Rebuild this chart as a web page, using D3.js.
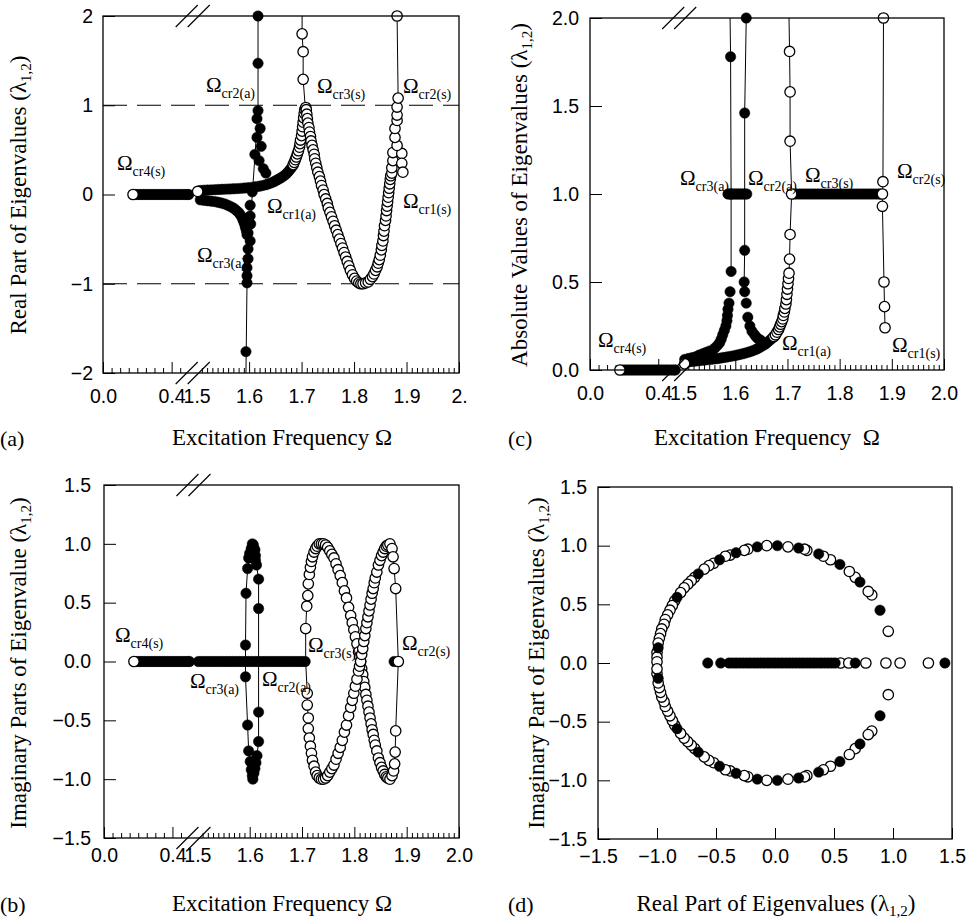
<!DOCTYPE html>
<html>
<head>
<meta charset="utf-8">
<script src="https://cdn.jsdelivr.net/npm/d3@7"></script>
<style>
  body { margin: 0; background: #fff; }
  svg { display: block; }
</style>
</head>
<body>
<script>
// ---------- data ----------
// low-frequency branch (Omega < 0.5), lambda on the real axis
const lowBarOmega = [0.19,0.205,0.22,0.235,0.25,0.265,0.28,0.295,0.31,0.325,0.34,0.355,0.37,0.385,0.40,0.415,0.43,0.445,0.46,0.475,0.49,0.50];
const lowOpen = [[0.175, 0]];

// (a) real part
const aStartOpen = [[1.502, 0.034]];
const aBandUpper = [[1.507,0.045],[1.514,0.048],[1.521,0.05],[1.528,0.052],[1.535,0.054],[1.542,0.056],[1.549,0.058],[1.556,0.06],[1.563,0.062],[1.57,0.064],[1.577,0.066],[1.584,0.069],[1.591,0.072],[1.598,0.076],[1.605,0.08],[1.612,0.086],[1.619,0.092],[1.625,0.1],[1.631,0.108],[1.636,0.118],[1.641,0.128],[1.646,0.14],[1.65,0.152],[1.654,0.165],[1.658,0.178],[1.662,0.192],[1.666,0.208],[1.67,0.226],[1.673,0.245],[1.676,0.265],[1.679,0.287],[1.682,0.31]];
const aBandUpperOpen = [[1.684,0.335],[1.686,0.36],[1.688,0.39],[1.69,0.42],[1.692,0.455],[1.694,0.49],[1.696,0.53],[1.697,0.57],[1.698,0.61],[1.7,0.66],[1.701,0.71],[1.702,0.76],[1.703,0.81],[1.704,0.86],[1.705,0.91],[1.706,0.95],[1.708,0.975]];
const aBandLower = [[1.507,-0.06],[1.514,-0.065],[1.521,-0.07],[1.528,-0.075],[1.535,-0.08],[1.541,-0.087],[1.547,-0.095],[1.553,-0.105],[1.558,-0.117],[1.563,-0.13],[1.568,-0.145],[1.572,-0.16],[1.576,-0.18],[1.58,-0.2],[1.583,-0.225],[1.586,-0.25],[1.588,-0.28],[1.59,-0.31],[1.592,-0.34],[1.593,-0.37],[1.595,-0.41],[1.596,-0.45]];
const aColumn = [[1.617,2.0],[1.617,1.47],[1.617,0.94],[1.615,0.85],[1.621,0.74],[1.615,0.64],[1.623,0.54],[1.611,0.45],[1.619,0.38],[1.627,0.29],[1.632,0.24],[1.606,0.03],[1.602,-0.12],[1.602,-0.24],[1.603,-0.33],[1.598,-0.43],[1.602,-0.52],[1.598,-0.61],[1.598,-0.72],[1.596,-0.82],[1.596,-0.91],[1.596,-0.99],[1.594,-1.76]];
const aColumnLine = [[1.617,2.0],[1.617,1.0],[1.612,0.5],[1.606,0.0],[1.6,-0.5],[1.596,-1.0],[1.594,-2.0]];
const aParabola = [[1.709,0.95],[1.71,0.9],[1.711,0.85],[1.712,0.8],[1.714,0.75],[1.715,0.7],[1.717,0.65],[1.718,0.6],[1.72,0.55],[1.722,0.5],[1.724,0.45],[1.725,0.4],[1.727,0.35],[1.729,0.3],[1.731,0.25],[1.734,0.2],[1.736,0.15],[1.738,0.1],[1.741,0.05],[1.743,0.0],[1.746,-0.05],[1.749,-0.1],[1.751,-0.15],[1.754,-0.2],[1.757,-0.25],[1.76,-0.3],[1.763,-0.35],[1.766,-0.4],[1.769,-0.45],[1.772,-0.5],[1.775,-0.55],[1.778,-0.6],[1.781,-0.65],[1.784,-0.7],[1.787,-0.75],[1.79,-0.8],[1.793,-0.85],[1.797,-0.9],[1.801,-0.94],[1.805,-0.97],[1.809,-0.99],[1.813,-1.0],[1.817,-1.0],[1.822,-0.99],[1.827,-0.98],[1.831,-0.95],[1.835,-0.92],[1.838,-0.89],[1.841,-0.85],[1.844,-0.81],[1.846,-0.77],[1.848,-0.73],[1.85,-0.68],[1.852,-0.62],[1.853,-0.57],[1.855,-0.52],[1.856,-0.46],[1.857,-0.41],[1.858,-0.35],[1.86,-0.29],[1.861,-0.24],[1.862,-0.18],[1.863,-0.13],[1.864,-0.08],[1.865,-0.03],[1.866,0.02],[1.867,0.07],[1.868,0.12],[1.869,0.17],[1.87,0.21]];
const aCol170 = [[1.703,1.29],[1.703,1.6],[1.701,1.8]];
const aCol170Line = [[1.701,2.0],[1.701,1.8],[1.703,1.6],[1.703,1.29],[1.707,0.98]];
const aCol188 = [[1.872,0.24],[1.872,0.3],[1.874,0.38],[1.874,0.47],[1.891,0.46],[1.891,0.35],[1.893,0.25],[1.882,0.55],[1.878,0.64],[1.878,0.74],[1.882,0.83],[1.882,0.89],[1.882,0.98],[1.884,1.08],[1.882,2.0]];
const aCol188Line = [[1.882,2.0],[1.884,1.08],[1.882,0.89],[1.879,0.7],[1.882,0.55],[1.884,0.45]];

// (c) absolute value
const cStartOpen = [[1.503,0.035]];
const cUpperLeft = [[1.503,0.06],[1.51,0.065],[1.517,0.07],[1.524,0.075],[1.531,0.085],[1.538,0.093],[1.544,0.1],[1.55,0.107],[1.556,0.113],[1.561,0.125],[1.566,0.14],[1.57,0.155],[1.573,0.175],[1.576,0.2],[1.579,0.225],[1.582,0.25],[1.584,0.28],[1.585,0.31],[1.586,0.345],[1.588,0.38],[1.59,0.445],[1.592,0.56],[1.592,1.0],[1.591,1.78]];
const cUnitBarA = [1.586,1.59,1.594,1.598,1.602,1.606,1.61,1.614,1.618,1.622];
const cColRight = [[1.621,2.0],[1.618,1.46],[1.618,0.68],[1.617,0.5],[1.618,0.445],[1.621,0.38],[1.624,0.3],[1.628,0.25],[1.632,0.22],[1.637,0.2],[1.641,0.185],[1.645,0.175],[1.649,0.168]];
const cLower = [[1.506,0.045],[1.512,0.047],[1.518,0.049],[1.524,0.051],[1.53,0.053],[1.536,0.055],[1.542,0.057],[1.548,0.059],[1.554,0.061],[1.56,0.063],[1.566,0.065],[1.572,0.068],[1.578,0.071],[1.584,0.074],[1.59,0.077],[1.596,0.08],[1.602,0.084],[1.608,0.088],[1.614,0.092],[1.62,0.097],[1.626,0.102],[1.632,0.108],[1.638,0.115],[1.643,0.122],[1.648,0.13],[1.653,0.139],[1.658,0.148],[1.662,0.158],[1.666,0.168],[1.67,0.179]];
const cLowerOpen = [[1.674,0.19],[1.677,0.2],[1.68,0.215],[1.683,0.23],[1.685,0.245],[1.687,0.26],[1.689,0.275],[1.691,0.29],[1.692,0.31],[1.694,0.33],[1.695,0.35],[1.697,0.375],[1.698,0.4],[1.699,0.43],[1.7,0.46],[1.701,0.49],[1.702,0.52],[1.703,0.55],[1.704,0.63],[1.705,0.77]];
const cCol170 = [[1.708,1.0],[1.705,1.3],[1.705,1.58],[1.704,1.81]];
const cUnitBarS = [1.712,1.718,1.724,1.73,1.736,1.742,1.748,1.754,1.76,1.766,1.772,1.778,1.784,1.79,1.796,1.802,1.808,1.814,1.82,1.826,1.832,1.838,1.844,1.85,1.856,1.862,1.868,1.874,1.878];
const cCol188 = [[1.884,2.0],[1.883,1.07],[1.882,1.0],[1.882,0.93],[1.885,0.5],[1.886,0.36],[1.887,0.24]];
const cLeftLine = [[1.59,2.0],[1.591,1.78],[1.592,1.0],[1.592,0.56]];
const cRightLine = [[1.621,2.0],[1.618,1.46],[1.618,1.0],[1.618,0.68],[1.617,0.5]];
const cCol170Line = [[1.703,2.0],[1.704,1.81],[1.705,1.58],[1.705,1.3],[1.708,1.0],[1.705,0.77],[1.704,0.63],[1.703,0.55]];

// (b) imaginary part
const bBarOmega = [1.502,1.508,1.514,1.52,1.526,1.532,1.538,1.544,1.55,1.556,1.562,1.568,1.574,1.58,1.586,1.592,1.598,1.604,1.61,1.616,1.622,1.628,1.634,1.64,1.646,1.652,1.658,1.664,1.67,1.676,1.682,1.688,1.694,1.7,1.706];
const bLensLeft = [[1.605,1.0],[1.603,0.96],[1.6,0.92],[1.598,0.88],[1.596,0.79],[1.593,0.58],[1.592,0.14],[1.592,-0.13],[1.596,-0.54],[1.598,-0.76],[1.601,-0.85],[1.603,-0.92],[1.605,-0.97],[1.606,-1.0]];
const bLensRight = [[1.607,0.99],[1.61,0.95],[1.611,0.9],[1.611,0.86],[1.613,0.82],[1.617,0.7],[1.617,0.45],[1.617,-0.43],[1.617,-0.68],[1.614,-0.8],[1.612,-0.86],[1.61,-0.91],[1.608,-0.95]];
const bCurveA = [[1.707,0.28],[1.709,0.47],[1.711,0.56],[1.712,0.66],[1.714,0.74],[1.716,0.8],[1.718,0.85],[1.72,0.89],[1.723,0.93],[1.726,0.96],[1.729,0.98],[1.733,1.0],[1.737,1.0],[1.741,1.0],[1.745,0.99],[1.749,0.97],[1.753,0.94],[1.757,0.91],[1.761,0.88],[1.765,0.83],[1.769,0.78],[1.773,0.73],[1.777,0.67],[1.781,0.6],[1.785,0.54],[1.789,0.46],[1.793,0.39],[1.796,0.33],[1.799,0.27],[1.802,0.21],[1.805,0.15],[1.808,0.08],[1.81,0.04],[1.812,0.0],[1.814,-0.06],[1.816,-0.11],[1.818,-0.17],[1.82,-0.22],[1.822,-0.28],[1.824,-0.33],[1.826,-0.38],[1.828,-0.43],[1.83,-0.48],[1.832,-0.53],[1.834,-0.58],[1.836,-0.62],[1.838,-0.67],[1.84,-0.71],[1.843,-0.76],[1.846,-0.82],[1.849,-0.86],[1.852,-0.9],[1.855,-0.93],[1.858,-0.96],[1.861,-0.98],[1.864,-0.99],[1.868,-1.0],[1.872,-0.97],[1.875,-0.93],[1.877,-0.87],[1.878,-0.77],[1.879,-0.59]];
const bCurveB = [[1.71,-0.27],[1.71,-0.37],[1.712,-0.48],[1.712,-0.57],[1.714,-0.65],[1.716,-0.72],[1.718,-0.78],[1.72,-0.84],[1.723,-0.89],[1.726,-0.94],[1.729,-0.97],[1.733,-0.99],[1.737,-1.0],[1.741,-1.0],[1.745,-0.99],[1.749,-0.97],[1.753,-0.94],[1.757,-0.91],[1.761,-0.88],[1.765,-0.83],[1.769,-0.78],[1.773,-0.73],[1.777,-0.67],[1.781,-0.6],[1.785,-0.54],[1.789,-0.46],[1.793,-0.39],[1.796,-0.33],[1.799,-0.27],[1.802,-0.21],[1.805,-0.15],[1.808,-0.08],[1.81,-0.04],[1.812,0.0],[1.814,0.06],[1.816,0.11],[1.818,0.17],[1.82,0.22],[1.822,0.28],[1.824,0.33],[1.826,0.38],[1.828,0.43],[1.83,0.48],[1.832,0.53],[1.834,0.58],[1.836,0.62],[1.838,0.67],[1.84,0.71],[1.843,0.76],[1.846,0.82],[1.849,0.86],[1.852,0.9],[1.855,0.93],[1.858,0.96],[1.861,0.98],[1.864,0.99],[1.868,1.0],[1.872,0.96],[1.874,0.89],[1.876,0.79],[1.879,0.62]];
const bEndFilled = [[1.876,0]];
const bEndOpen = [[1.884,0]];

// (d) eigenvalues in the complex plane
const dAxisFilled = [-0.57,-0.46,-0.39,-0.36,-0.33,-0.3,-0.27,-0.24,-0.21,-0.18,-0.15,-0.12,-0.09,-0.06,-0.03,0.0,0.03,0.06,0.09,0.12,0.15,0.18,0.21,0.24,0.27,0.3,0.33,0.36,0.39,0.42,0.45,0.48,0.51,0.68,1.44];
const dAxisOpen = [0.555,0.625,0.77,0.94,1.06,1.3];
const dCircleFilled = [[0.89,0.45],[0.72,0.69],[0.55,0.84],[0.37,0.93],[0.2,0.98],[0.02,1.0],[-0.15,0.99],[-0.33,0.94],[-0.47,0.88],[-0.65,0.76],[-0.83,0.56],[-0.99,0.13],
  [0.89,-0.45],[0.72,-0.69],[0.55,-0.84],[0.37,-0.93],[0.2,-0.98],[0.02,-1.0],[-0.15,-0.99],[-0.33,-0.94],[-0.47,-0.88],[-0.65,-0.76],[-0.83,-0.56],[-0.99,-0.13]];
const dCircleOpen = [[0.96,0.27],[0.82,0.58],[0.79,0.61],[0.68,0.73],[0.63,0.78],[0.47,0.88],[0.41,0.91],[0.27,0.96],[0.25,0.97],[0.11,0.99],[-0.07,1.0],[-0.23,0.97],[-0.26,0.96],[-0.38,0.92],[-0.42,0.91],[-0.52,0.85],[-0.56,0.83],[-0.6,0.8],[-0.68,0.73],[-0.71,0.7],[-0.74,0.67],[-0.77,0.64],[-0.8,0.6],[-0.85,0.53],[-0.87,0.49],[-0.89,0.45],[-0.91,0.41],[-0.93,0.37],[-0.94,0.33],[-0.96,0.29],[-0.97,0.25],[-0.98,0.21],[-0.99,0.17],[-1.0,0.09],[-1.0,0.05],[-1.0,0.01],
  [0.96,-0.27],[0.82,-0.58],[0.79,-0.61],[0.68,-0.73],[0.63,-0.78],[0.47,-0.88],[0.41,-0.91],[0.27,-0.96],[0.25,-0.97],[0.11,-0.99],[-0.07,-1.0],[-0.23,-0.97],[-0.26,-0.96],[-0.38,-0.92],[-0.42,-0.91],[-0.52,-0.85],[-0.56,-0.83],[-0.6,-0.8],[-0.68,-0.73],[-0.71,-0.7],[-0.74,-0.67],[-0.77,-0.64],[-0.8,-0.6],[-0.85,-0.53],[-0.87,-0.49],[-0.89,-0.45],[-0.91,-0.41],[-0.93,-0.37],[-0.94,-0.33],[-0.96,-0.29],[-0.97,-0.25],[-0.98,-0.21],[-0.99,-0.17],[-1.0,-0.09],[-1.0,-0.05]];

// ticks
const xMajor = [0, 0.4, 1.5, 1.6, 1.7, 1.8, 1.9, 2.0];
const xMajorLabels = ["0.0","0.4","1.5","1.6","1.7","1.8","1.9","2.0"];
const xMajorLabelsA = ["0.0","0.4","1.5","1.6","1.7","1.8","1.9","2."];
const yTicksA = [-2,-1,0,1,2];
const yTicksC = [0,0.5,1.0,1.5,2.0];
const ticks15 = [-1.5,-1.0,-0.5,0,0.5,1.0,1.5];

// ---------- drawing ----------
const SERIF = "'Liberation Serif','Times New Roman',serif";
const SANS = "'Liberation Sans',Arial,sans-serif";
const R = 5.2;
const TITLE = 23;

const svg = d3.select("body").append("svg").attr("width", 970).attr("height", 924);
svg.append("rect").attr("width", 970).attr("height", 924).attr("fill", "#fff");

const brokenScale = w => d3.scaleLinear().domain([0, 0.5, 1.5, 2.0]).range([0, 0.241 * w, 0.263 * w, w]);

function styleAxis(a) {
  a.select(".domain").remove();
  a.attr("font-family", SANS).attr("font-size", 19.5);
  a.selectAll("line").attr("stroke", "#000").attr("stroke-width", 1);
  a.selectAll("text").attr("fill", "#000");
}

function frame(g, w, h) {
  g.append("rect").attr("width", w).attr("height", h)
    .attr("fill", "none").attr("stroke", "#000").attr("stroke-width", 1.3);
}

function brokenXAxis(g, x, h, labels, pad) {
  g.append("g").attr("transform", `translate(0,${h})`)
    .call(d3.axisBottom(x).tickValues(xMajor).tickSize(-11).tickPadding(pad).tickFormat((d, i) => labels[i]))
    .call(styleAxis)
    .call(a => a.selectAll(".tick").filter(d => d === 1.5).select("line").remove());
  const minor = d3.range(1, 10).filter(k => k !== 8).map(k => k * 0.05)
    .concat(d3.range(151, 200).filter(k => k % 10 !== 0).map(k => k / 100));
  g.append("g").attr("transform", `translate(0,${h})`)
    .call(d3.axisBottom(x).tickValues(minor).tickSize(-5).tickFormat(""))
    .call(styleAxis);
}

function yAxis(g, y, vals, fmt, pad) {
  g.append("g")
    .call(d3.axisLeft(y).tickValues(vals).tickSize(-12).tickPadding(pad).tickFormat(fmt))
    .call(styleAxis);
}

function breakMarks(g, cx, ys) {
  ys.forEach(yy => [-6, 6].forEach(o => {
    g.append("line")
      .attr("x1", cx + o - 11).attr("y1", yy + 11)
      .attr("x2", cx + o + 11).attr("y2", yy - 11)
      .attr("stroke", "#000").attr("stroke-width", 1.1);
  }));
}

function line(g, x, y, data) {
  g.append("path").datum(data)
    .attr("d", d3.line().x(d => x(d[0])).y(d => y(d[1])))
    .attr("fill", "none").attr("stroke", "#000").attr("stroke-width", 1);
}

function dots(g, x, y, data, open) {
  g.append("g").selectAll("circle").data(data).join("circle")
    .attr("cx", d => x(d[0])).attr("cy", d => y(d[1])).attr("r", R)
    .attr("fill", open ? "#fff" : "#000")
    .attr("stroke", "#000").attr("stroke-width", open ? 1.3 : 0.5);
}

function omegaLabel(g, lx, ly, sub) {
  const t = g.append("text").attr("x", lx).attr("y", ly)
    .attr("font-family", SERIF).attr("font-size", 21).attr("fill", "#000");
  t.append("tspan").text("Ω");
  t.append("tspan").attr("font-size", 14).attr("dy", 6).text(sub);
}

function yTitle(x, y, main) {
  const t = svg.append("text").attr("transform", `translate(${x},${y}) rotate(-90)`)
    .attr("text-anchor", "middle").attr("font-family", SERIF).attr("font-size", TITLE).attr("fill", "#000");
  t.append("tspan").text(main + " (λ");
  t.append("tspan").attr("font-size", 15).attr("dy", 5).text("1,2");
  t.append("tspan").attr("dy", -5).text(")");
}

function plainText(x, y, s, anchor, size) {
  svg.append("text").attr("x", x).attr("y", y).attr("text-anchor", anchor || "start")
    .attr("font-family", SERIF).attr("font-size", size || TITLE).attr("fill", "#000")
    .style("white-space", "pre").text(s);
}

const onAxis = vals => vals.map(v => [v, 0]);
const atOne = vals => vals.map(v => [v, 1]);

// ===== (a) =====
{
  const box = { x: 103, y: 16, w: 356, h: 357 };
  const g = svg.append("g").attr("transform", `translate(${box.x},${box.y})`);
  const x = brokenScale(box.w);
  const y = d3.scaleLinear().domain([-2, 2]).range([box.h, 0]);
  [1, -1].forEach(v => g.append("line").attr("x1", 0).attr("x2", box.w).attr("y1", y(v)).attr("y2", y(v))
    .attr("stroke", "#000").attr("stroke-width", 1).attr("stroke-dasharray", "24,10"));
  yAxis(g, y, yTicksA, d3.format("d"), 10);
  brokenXAxis(g, x, box.h, xMajorLabelsA, 16);
  line(g, x, y, aColumnLine);
  line(g, x, y, aCol170Line);
  line(g, x, y, aCol188Line);
  dots(g, x, y, onAxis(lowBarOmega), false);
  dots(g, x, y, aBandLower, false);
  dots(g, x, y, aBandUpper, false);
  dots(g, x, y, aColumn, false);
  dots(g, x, y, lowOpen, true);
  dots(g, x, y, aStartOpen, true);
  dots(g, x, y, aBandUpperOpen, true);
  dots(g, x, y, aParabola, true);
  dots(g, x, y, aCol170, true);
  dots(g, x, y, aCol188, true);
  frame(g, box.w, box.h);
  breakMarks(g, x(1.0), [0, box.h]);
  omegaLabel(g, 103, 76, "cr2(a)");
  omegaLabel(g, 214, 77, "cr3(s)");
  omegaLabel(g, 300, 77, "cr2(s)");
  omegaLabel(g, 14, 154, "cr4(s)");
  omegaLabel(g, 164, 197, "cr1(a)");
  omegaLabel(g, 300, 192, "cr1(s)");
  omegaLabel(g, 94, 246, "cr3(a)");
}

// ===== (c) =====
{
  const box = { x: 590, y: 18, w: 354, h: 352 };
  const g = svg.append("g").attr("transform", `translate(${box.x},${box.y})`);
  const x = brokenScale(box.w);
  const y = d3.scaleLinear().domain([0, 2]).range([box.h, 0]);
  yAxis(g, y, yTicksC, d3.format(".1f"), 11);
  brokenXAxis(g, x, box.h, xMajorLabels, 16);
  line(g, x, y, cLeftLine);
  line(g, x, y, cRightLine);
  line(g, x, y, cCol170Line);
  line(g, x, y, cCol188);
  dots(g, x, y, onAxis(lowBarOmega), false);
  dots(g, x, y, cLower, false);
  dots(g, x, y, cUpperLeft, false);
  dots(g, x, y, atOne(cUnitBarA), false);
  dots(g, x, y, cColRight, false);
  dots(g, x, y, atOne(cUnitBarS), false);
  dots(g, x, y, lowOpen, true);
  dots(g, x, y, cStartOpen, true);
  dots(g, x, y, cLowerOpen, true);
  dots(g, x, y, cCol170, true);
  dots(g, x, y, cCol188, true);
  frame(g, box.w, box.h);
  breakMarks(g, x(1.0), [0, box.h]);
  omegaLabel(g, 90, 167, "cr3(a)");
  omegaLabel(g, 158, 167, "cr2(a)");
  omegaLabel(g, 215, 164, "cr3(s)");
  omegaLabel(g, 307, 160, "cr2(s)");
  omegaLabel(g, 8, 329, "cr4(s)");
  omegaLabel(g, 192, 332, "cr1(a)");
  omegaLabel(g, 302, 334, "cr1(s)");
}

// ===== (b) =====
{
  const box = { x: 104, y: 485, w: 355, h: 353 };
  const g = svg.append("g").attr("transform", `translate(${box.x},${box.y})`);
  const x = brokenScale(box.w);
  const y = d3.scaleLinear().domain([-1.5, 1.5]).range([box.h, 0]);
  yAxis(g, y, ticks15, d3.format(".1f"), 13);
  brokenXAxis(g, x, box.h, xMajorLabels, 10);
  line(g, x, y, bLensLeft);
  line(g, x, y, [bLensLeft[0]].concat(bLensRight, [bLensLeft[bLensLeft.length - 1]]));
  line(g, x, y, [[1.707, 0]].concat(bCurveA, bEndOpen));
  line(g, x, y, [[1.707, 0]].concat(bCurveB, bEndOpen));
  dots(g, x, y, onAxis(lowBarOmega), false);
  dots(g, x, y, onAxis(bBarOmega), false);
  dots(g, x, y, bLensLeft, false);
  dots(g, x, y, bLensRight, false);
  dots(g, x, y, bEndFilled, false);
  dots(g, x, y, lowOpen, true);
  dots(g, x, y, bCurveA, true);
  dots(g, x, y, bCurveB, true);
  dots(g, x, y, bEndOpen, true);
  frame(g, box.w, box.h);
  breakMarks(g, x(1.0), [0, box.h]);
  omegaLabel(g, 11, 157, "cr4(s)");
  omegaLabel(g, 86, 203, "cr3(a)");
  omegaLabel(g, 158, 201, "cr2(a)");
  omegaLabel(g, 204, 167, "cr3(s)");
  omegaLabel(g, 298, 165, "cr2(s)");
}

// ===== (d) =====
{
  const box = { x: 598, y: 487, w: 354, h: 352 };
  const g = svg.append("g").attr("transform", `translate(${box.x},${box.y})`);
  const x = d3.scaleLinear().domain([-1.5, 1.5]).range([0, box.w]);
  const y = d3.scaleLinear().domain([-1.5, 1.5]).range([box.h, 0]);
  yAxis(g, y, ticks15, d3.format(".1f"), 11);
  g.append("g").attr("transform", `translate(0,${box.h})`)
    .call(d3.axisBottom(x).tickValues(ticks15).tickSize(-11).tickPadding(10).tickFormat(d3.format(".1f")))
    .call(styleAxis);
  dots(g, x, y, dCircleOpen, true);
  dots(g, x, y, onAxis(dAxisOpen), true);
  dots(g, x, y, dCircleFilled, false);
  dots(g, x, y, onAxis(dAxisFilled), false);
  frame(g, box.w, box.h);
}

// ----- titles -----
yTitle(26, 195, "Real Part of Eigenvalues");
yTitle(527, 195, "Absolute Values of Eigenvalues");
yTitle(26, 663, "Imaginary Parts of Eigenvalue");
yTitle(544, 663, "Imaginary Part of Eigenvalues");

plainText(282, 445, "Excitation Frequency Ω", "middle");
plainText(767, 445, "Excitation Frequency  Ω", "middle");
plainText(282, 911, "Excitation Frequency Ω", "middle");
{
  const t = svg.append("text").attr("x", 776).attr("y", 911).attr("text-anchor", "middle")
    .attr("font-family", SERIF).attr("font-size", TITLE).attr("fill", "#000");
  t.append("tspan").text("Real Part of Eigenvalues (λ");
  t.append("tspan").attr("font-size", 15).attr("dy", 5).text("1,2");
  t.append("tspan").attr("dy", -5).text(")");
}

plainText(0, 446, "(a)", "start", 22);
plainText(508, 446, "(c)", "start", 22);
plainText(0, 912, "(b)", "start", 22);
plainText(508, 912, "(d)", "start", 22);
</script>
</body>
</html>
